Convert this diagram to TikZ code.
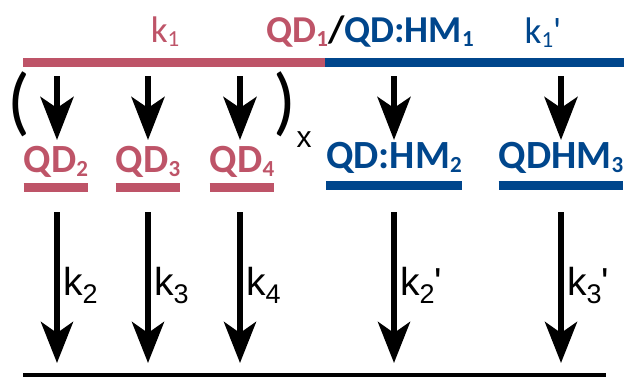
\documentclass[tikz,border=0pt]{standalone}
\usepackage{fontspec}
\setmainfont{Carlito}
\newfontfamily\arialfont{Liberation Sans}
\usetikzlibrary{arrows.meta}
\usetikzlibrary{positioning}
\definecolor{qdpink}{RGB}{190,84,104}
\definecolor{hmblue}{RGB}{0,70,140}
\newcommand{\spsub}[1]{\raisebox{-4pt}{\fontsize{23}{23}\selectfont #1}}
\newcommand{\ratesub}[1]{\raisebox{-8pt}{\fontsize{27}{27}\selectfont #1}}
\tikzset{species/.style={inner sep=0pt, anchor=base, font=\fontsize{40}{44}\selectfont\bfseries},
    toprate/.style={inner sep=0pt, anchor=base, font=\fontsize{37}{40}\selectfont},
    rate/.style={inner sep=0pt, anchor=base west, font=\arialfont\fontsize{39}{40}\selectfont},
    bar/.style={line width=9pt},
    shortarr/.style={line width=6pt, -{Stealth[length=43pt,width=33pt,inset=11pt]}},
    longarr/.style={line width=6pt, -{Stealth[length=41pt,width=32pt,inset=11pt]}}
}

\begin{document}
\begin{tikzpicture}[x=1pt, y=-1pt]
            \useasboundingbox (0,0) rectangle (624,378);

            % top level
            \coordinate (topw) at (23,62);
            \coordinate (topm) at (325,62);
            \coordinate (tope) at (624,62);
            \draw[bar, qdpink] (topw) -- (topm);
            \draw[bar, hmblue] (topm) -- (tope);

            \node[toprate, text=qdpink] (k1) at (165,42) {k\spsub{1}};
            \node[species, font=\fontsize{38}{40}\selectfont\bfseries] (qd1) at (370,42) {\textcolor{qdpink}{QD\spsub{1}}/\textcolor{hmblue}{QD:HM\spsub{1}}};
            \node[toprate, text=hmblue] (k1p) at (543,43) {k\spsub{1}\textquotesingle};

            % intermediate species
            \node[species, text=qdpink] (qd2) at (56,172) {QD\spsub{2}};
            \node[species, text=qdpink] (qd3) at (148,172) {QD\spsub{3}};
            \node[species, text=qdpink] (qd4) at (242,172) {QD\spsub{4}};
            \node[species, text=hmblue] (qdhm2) at (394,168) {QD:HM\spsub{2}};
            \node[species, text=hmblue] (qdhm3) at (561,168) {QDHM\spsub{3}};

            \draw[bar, qdpink] ([yshift=-15pt]qd2.base west) -- ([yshift=-15pt]qd2.base east);
            \draw[bar, qdpink] ([yshift=-15pt]qd3.base west) -- ([yshift=-15pt]qd3.base east);
            \draw[bar, qdpink] ([yshift=-15pt]qd4.base west) -- ([yshift=-15pt]qd4.base east);
            \draw[bar, hmblue] ([yshift=-17pt]qdhm2.base west) -- ([yshift=-17pt]qdhm2.base east);
            \draw[bar, hmblue] ([yshift=-17pt]qdhm3.base west) -- ([yshift=-17pt]qdhm3.base east);

            \node[font=\fontsize{75}{75}\selectfont, inner sep=0pt] (lpar) at (19,104) {(};
            \node[font=\fontsize{75}{75}\selectfont, inner sep=0pt] (rpar) at (285,104) {)};
            \node[font=\arialfont\fontsize{30}{30}\selectfont, inner sep=0pt] (times) at (304,140) {x};

            % first step
            \coordinate (s2) at (57,76);
            \coordinate (s3) at (148,76);
            \coordinate (s4) at (240,76);
            \coordinate (s5) at (394,76);
            \coordinate (s6) at (561,76);
            \coordinate (e2) at (57,140);
            \coordinate (e3) at (148,140);
            \coordinate (e4) at (240,140);
            \coordinate (e5) at (394,140);
            \coordinate (e6) at (561,140);
            \draw[shortarr] (s2) -- (e2);
            \draw[shortarr] (s3) -- (e3);
            \draw[shortarr] (s4) -- (e4);
            \draw[shortarr] (s5) -- (e5);
            \draw[shortarr] (s6) -- (e6);

            % second step
            \coordinate (botw) at (23,375);
            \coordinate (bote) at (606,375);
            \draw[line width=3.5pt] (botw) -- (bote);

            \coordinate (u2) at (57,212);
            \coordinate (u3) at (148,212);
            \coordinate (u4) at (240,212);
            \coordinate (u5) at (394,212);
            \coordinate (u6) at (561,212);
            \coordinate (d2) at (57,363);
            \coordinate (d3) at (148,363);
            \coordinate (d4) at (240,363);
            \coordinate (d5) at (394,363);
            \coordinate (d6) at (561,363);
            \draw[longarr] (u2) -- (d2);
            \draw[longarr] (u3) -- (d3);
            \draw[longarr] (u4) -- (d4);
            \draw[longarr] (u5) -- (d5);
            \draw[longarr] (u6) -- (d6);

            \node[rate] (k2) at (63,295) {k\ratesub{2}};
            \node[rate] (k3) at (154,295) {k\ratesub{3}};
            \node[rate] (k4) at (246,295) {k\ratesub{4}};
            \node[rate] (k2p) at (400,295) {k\ratesub{2}'};
            \node[rate] (k3p) at (567,295) {k\ratesub{3}'};

        \end{tikzpicture}
\end{document}
